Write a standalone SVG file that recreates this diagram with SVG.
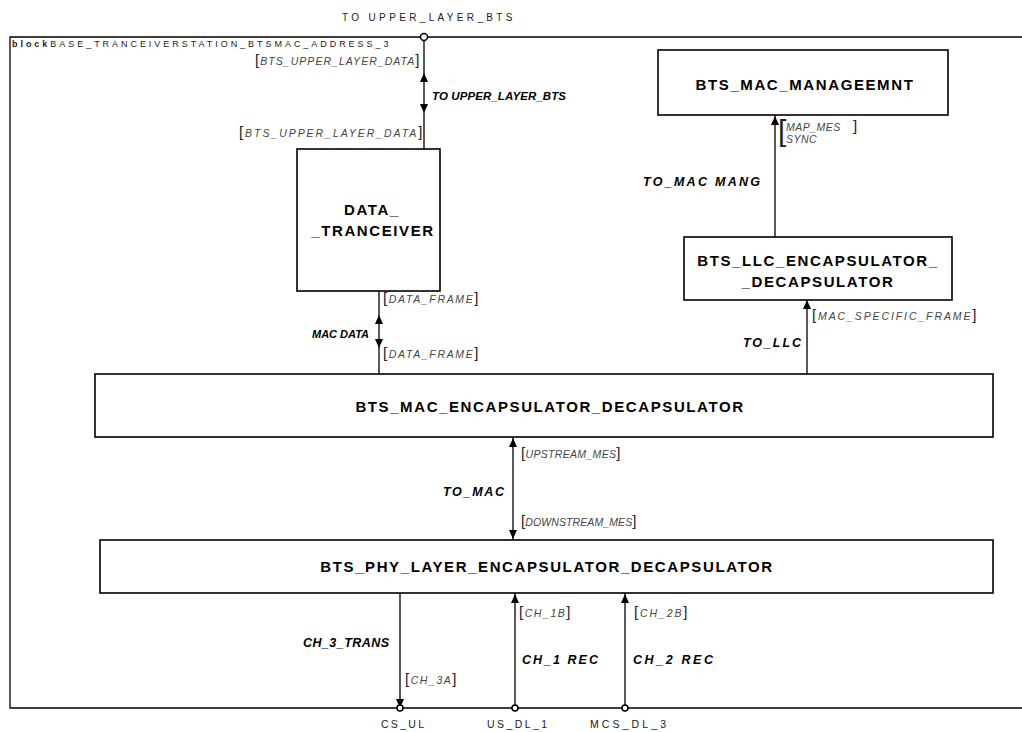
<svg xmlns="http://www.w3.org/2000/svg" width="1022" height="732" viewBox="0 0 1022 732">
<style>
.box{fill:#fff;stroke:#000;stroke-width:1.6}
.ttl{font-family:"Liberation Sans",Arial,sans-serif;font-weight:bold;font-size:15px;letter-spacing:1.6px;text-anchor:middle;fill:#000}
.lbl{font-family:"Liberation Sans",Arial,sans-serif;font-weight:bold;font-style:italic;font-size:12.5px;fill:#000}
.sig{font-family:"Liberation Sans",Arial,sans-serif;font-style:italic;font-size:10.5px;letter-spacing:0.5px;fill:#444}
.br{font-size:15px;font-style:normal;fill:#222}
.bigbr{font-family:"Liberation Sans",Arial,sans-serif;font-size:30px;fill:#222}
.plain{font-family:"Liberation Sans",Arial,sans-serif;font-size:10px;letter-spacing:1.5px;fill:#222}
.port-lbl{font-family:"Liberation Sans",Arial,sans-serif;font-size:10.5px;fill:#222}
.ln{stroke:#000;stroke-width:1.3;fill:none}
.ah{fill:#000}
.port{fill:#fff;stroke:#000;stroke-width:1.5}
</style>
<rect width="1022" height="732" fill="#fff"/>
<g id="frame">
<polyline class="ln" points="1022,37 10,37 10,708 1022,708" stroke-width="1.6"/>
<text class="plain" x="12" y="47" style="font-size:9px" textLength="378" lengthAdjust="spacing"><tspan font-weight="bold">block</tspan>BASE_TRANCEIVERSTATION_BTSMAC_ADDRESS_3</text>
<text class="plain" x="342" y="21" textLength="172" lengthAdjust="spacing">TO UPPER_LAYER_BTS</text>
</g>
<g id="connectors">
<!-- TO UPPER_LAYER_BTS -->
<line class="ln" x1="424" y1="40" x2="424" y2="149"/>
<polygon class="ah" points="424,73 420,82 428,82"/>
<polygon class="ah" points="424,113 420,104 428,104"/>
<circle class="port" cx="424" cy="37" r="3.5"/>
<text class="sig" x="255" y="65" textLength="165" lengthAdjust="spacing"><tspan class="br">[</tspan>BTS_UPPER_LAYER_DATA<tspan class="br">]</tspan></text>
<text class="lbl" x="432" y="100" style="font-size:11.5px" textLength="134" lengthAdjust="spacing">TO UPPER_LAYER_BTS</text>
<text class="sig" x="239" y="137" textLength="184" lengthAdjust="spacing"><tspan class="br">[</tspan>BTS_UPPER_LAYER_DATA<tspan class="br">]</tspan></text>
<!-- MAC DATA -->
<line class="ln" x1="379" y1="291" x2="379" y2="374"/>
<polygon class="ah" points="379,315 375,324 383,324"/>
<polygon class="ah" points="379,348 375,339 383,339"/>
<text class="sig" x="383" y="303" textLength="96" lengthAdjust="spacing"><tspan class="br">[</tspan>DATA_FRAME<tspan class="br">]</tspan></text>
<text class="sig" x="383" y="358" textLength="96" lengthAdjust="spacing"><tspan class="br">[</tspan>DATA_FRAME<tspan class="br">]</tspan></text>
<text class="lbl" x="312" y="338" style="font-size:11px" textLength="57" lengthAdjust="spacing">MAC DATA</text>
<!-- TO_MAC MANG -->
<line class="ln" x1="775" y1="115" x2="775" y2="237"/>
<polygon class="ah" points="775,116 771,125 779,125"/>
<text class="bigbr" x="778" y="141">[</text>
<text class="sig" x="786" y="131">MAP_MES<tspan class="br" x="853">]</tspan></text>
<text class="sig" x="786" y="143">SYNC</text>
<text class="lbl" x="643" y="186" textLength="117" lengthAdjust="spacing">TO_MAC MANG</text>
<!-- TO_LLC -->
<line class="ln" x1="807" y1="374" x2="807" y2="300"/>
<polygon class="ah" points="807,300 803,309 811,309"/>
<text class="sig" x="812" y="320" textLength="165" lengthAdjust="spacing"><tspan class="br">[</tspan>MAC_SPECIFIC_FRAME<tspan class="br">]</tspan></text>
<text class="lbl" x="743" y="347" textLength="58" lengthAdjust="spacing">TO_LLC</text>
<!-- TO_MAC -->
<line class="ln" x1="513" y1="437" x2="513" y2="540"/>
<polygon class="ah" points="513,438 509,447 517,447"/>
<polygon class="ah" points="513,539 509,530 517,530"/>
<text class="sig" x="521" y="458" textLength="100" lengthAdjust="spacing"><tspan class="br">[</tspan>UPSTREAM_MES<tspan class="br">]</tspan></text>
<text class="sig" x="521" y="526" textLength="116" lengthAdjust="spacing"><tspan class="br">[</tspan>DOWNSTREAM_MES<tspan class="br">]</tspan></text>
<text class="lbl" x="443" y="496" textLength="61" lengthAdjust="spacing">TO_MAC</text>
<!-- CH_3_TRANS -->
<line class="ln" x1="400" y1="593" x2="400" y2="708"/>
<polygon class="ah" points="400,708 396,699 404,699"/>
<circle class="port" cx="400" cy="708" r="3"/>
<text class="sig" x="405" y="684" textLength="52" lengthAdjust="spacing"><tspan class="br">[</tspan>CH_3A<tspan class="br">]</tspan></text>
<text class="lbl" x="303" y="647" textLength="86" lengthAdjust="spacing">CH_3_TRANS</text>
<!-- CH_1 REC -->
<line class="ln" x1="515" y1="708" x2="515" y2="593"/>
<polygon class="ah" points="515,594 511,603 519,603"/>
<circle class="port" cx="515" cy="708" r="3"/>
<text class="sig" x="519" y="617" textLength="52" lengthAdjust="spacing"><tspan class="br">[</tspan>CH_1B<tspan class="br">]</tspan></text>
<text class="lbl" x="522" y="664" textLength="76" lengthAdjust="spacing">CH_1 REC</text>
<!-- CH_2 REC -->
<line class="ln" x1="625" y1="708" x2="625" y2="593"/>
<polygon class="ah" points="625,594 621,603 629,603"/>
<circle class="port" cx="625" cy="708" r="3"/>
<text class="sig" x="634" y="617" textLength="54" lengthAdjust="spacing"><tspan class="br">[</tspan>CH_2B<tspan class="br">]</tspan></text>
<text class="lbl" x="633" y="664" textLength="80" lengthAdjust="spacing">CH_2 REC</text>
<text class="port-lbl" x="381" y="728" textLength="43" lengthAdjust="spacing">CS_UL</text>
<text class="port-lbl" x="487" y="728" textLength="60" lengthAdjust="spacing">US_DL_1</text>
<text class="port-lbl" x="590" y="728" textLength="76" lengthAdjust="spacing">MCS_DL_3</text>
</g>
<g id="data_tranceiver">
<rect class="box" x="297" y="149" width="143" height="142"/>
<text class="ttl" x="372" y="215">DATA_</text>
<text class="ttl" x="373" y="236">_TRANCEIVER</text>
</g>
<g id="bts_mac_manageemnt">
<rect class="box" x="658" y="50" width="290" height="65"/>
<text class="ttl" x="805" y="90">BTS_MAC_MANAGEEMNT</text>
</g>
<g id="bts_llc_encapsulator_decapsulator">
<rect class="box" x="684" y="237" width="268" height="63"/>
<text class="ttl" x="818" y="266">BTS_LLC_ENCAPSULATOR_</text>
<text class="ttl" x="818" y="287">_DECAPSULATOR</text>
</g>
<g id="bts_mac_encapsulator_decapsulator">
<rect class="box" x="95" y="374" width="898" height="63"/>
<text class="ttl" x="550" y="412">BTS_MAC_ENCAPSULATOR_DECAPSULATOR</text>
</g>
<g id="bts_phy_layer_encapsulator_decapsulator">
<rect class="box" x="100" y="540" width="893" height="53"/>
<text class="ttl" x="547" y="572">BTS_PHY_LAYER_ENCAPSULATOR_DECAPSULATOR</text>
</g>
</svg>
